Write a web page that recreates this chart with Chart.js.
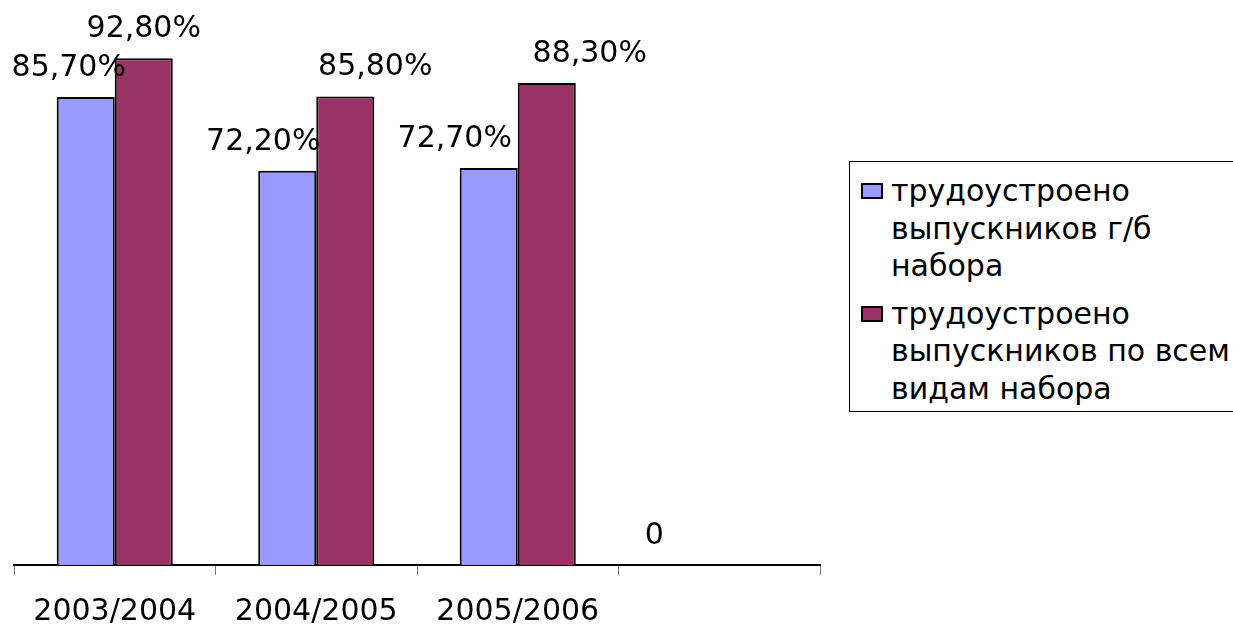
<!DOCTYPE html>
<html>
<head>
<meta charset="utf-8">
<script src="https://cdn.jsdelivr.net/npm/chart.js@4"></script>
<style>
    html, body { margin: 0; padding: 0; background: #fff; }
    #wrap { position: relative; width: 1233px; height: 626px; overflow: hidden; }
    #legend {
        position: absolute; left: 849px; top: 161px; width: 420px;
        border: 1px solid #000; background: #fff;
        font-family: "DejaVu Sans", sans-serif; font-size: 30px;
        line-height: 37.5px; color: #000; padding: 10px 0 4px 0; box-sizing: border-box;
    }
    .item { position: relative; padding-left: 41px; margin-bottom: 10px; }
    .item:last-child { margin-bottom: 0; }
    .box { position: absolute; left: 11px; top: 11px; width: 18px; height: 12px; border: 2px solid #000; }
</style>
</head>
<body>
<div id="wrap">
    <canvas id="chart" width="1233" height="626"></canvas>
    <div id="legend"></div>
</div>
<script>
const categories = ['2003/2004', '2004/2005', '2005/2006', ''];
const seriesNames = [
    ['трудоустроено', 'выпускников г/б', 'набора'],
    ['трудоустроено', 'выпускников по всем', 'видам набора']
];
const gbValues = [85.7, 72.2, 72.7, 0];
const allValues = [92.8, 85.8, 88.3, null];
const colors = ['#9999FF', '#993366'];

// horizontal nudges of the value labels, as Excel placed them
const labelShift = [[-17, -24, -34, -36], [0, 30, 43, 0]];

function fmt(v) {
    if (v === 0) return '0';
    return v.toFixed(2).replace('.', ',') + '%';
}

const valueLabels = {
    id: 'valueLabels',
    afterDatasetsDraw(chart) {
        const ctx = chart.ctx;
        ctx.save();
        ctx.font = '30px "DejaVu Sans", sans-serif';
        ctx.fillStyle = '#000';
        ctx.textAlign = 'center';
        ctx.textBaseline = 'middle';
        chart.data.datasets.forEach((ds, i) => {
            chart.getDatasetMeta(i).data.forEach((bar, j) => {
                const v = ds.data[j];
                if (v === null || v === undefined) return;
                ctx.fillText(fmt(v), bar.x + labelShift[i][j], bar.y - 29);
            });
        });
        ctx.restore();
    }
};

const chart = new Chart(document.getElementById('chart').getContext('2d'), {
    type: 'bar',
    data: {
        labels: categories,
        datasets: [
            { label: seriesNames[0].join(' '), data: gbValues, backgroundColor: colors[0] },
            { label: seriesNames[1].join(' '), data: allValues, backgroundColor: colors[1] }
        ]
    },
    options: {
        responsive: false,
        animation: false,
        layout: { padding: { left: 14, right: 413, top: 19, bottom: -23 } },
        datasets: {
            bar: {
                borderColor: '#000',
                borderWidth: c => (c.raw === 0 ? 0 : 2),
                categoryPercentage: 0.576,
                barPercentage: 1
            }
        },
        plugins: {
            legend: { display: false },
            tooltip: { enabled: false }
        },
        scales: {
            x: {
                grid: {
                    offset: true,
                    drawOnChartArea: false,
                    tickLength: 10,
                    color: '#777'
                },
                border: { color: '#000', width: 2 },
                ticks: {
                    color: '#000',
                    padding: 22,
                    maxRotation: 0,
                    font: { family: '"DejaVu Sans", sans-serif', size: 30, lineHeight: 1 }
                }
            },
            y: {
                display: false,
                min: 0,
                max: 100
            }
        }
    },
    plugins: [valueLabels]
});

const legendEl = document.getElementById('legend');
seriesNames.forEach((lines, i) => {
    const item = document.createElement('div');
    item.className = 'item';
    item.innerHTML = '<span class="box" style="background:' + colors[i] + '"></span>' + lines.join('<br>');
    legendEl.appendChild(item);
});
</script>
</body>
</html>
